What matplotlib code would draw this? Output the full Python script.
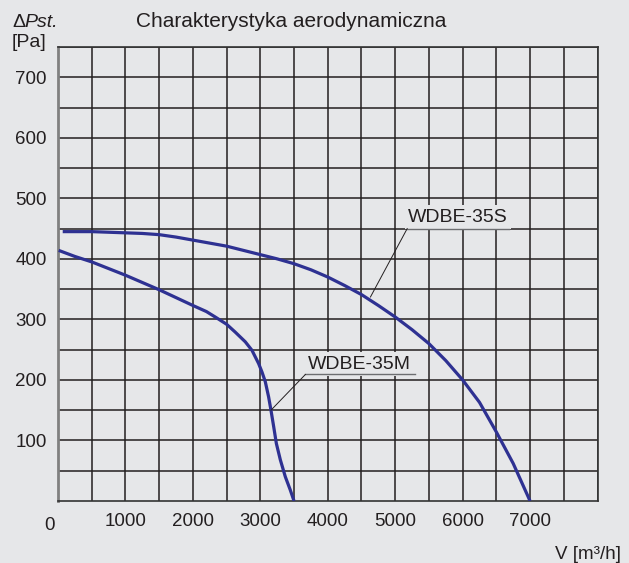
import matplotlib
matplotlib.use('Agg')
import matplotlib.pyplot as plt
import numpy as np

# ---- data ----
s_flow = [70, 500, 1000, 1250, 1500, 1750, 2000, 2250, 2500, 2750, 3000, 3250, 3500, 3750, 4000,
          4250, 4500, 4750, 5000, 5250, 5500, 5750, 6000, 6250, 6500, 6750, 7000]
s_pres = [445, 445, 443, 442, 440, 436, 431, 426, 421, 414, 407, 400, 392, 382, 370,
          356, 341, 323, 304, 283, 260, 232, 200, 163, 114, 62, 0]
m_flow = [10, 250, 500, 750, 1000, 1250, 1500, 1750, 2000, 2200, 2331, 2500, 2628, 2777, 2876,
          2975, 3025, 3074, 3123, 3158, 3198, 3238, 3297, 3371, 3445, 3500]
m_pres = [414, 404, 395, 384, 373, 361, 349, 336, 323, 313, 304, 292, 279, 263, 249,
          227, 213, 197, 172, 150, 123, 95, 68, 40, 18, 0]

x_tick_vals = [1000, 2000, 3000, 4000, 5000, 6000, 7000]
y_tick_vals = [100, 200, 300, 400, 500, 600, 700]
s_name = "WDBE-35S"
m_name = "WDBE-35M"
title = "Charakterystyka aerodynamiczna"

bg = '#e6e7e9'
curve_c = '#2e3192'
grid_c = '#231f20'
txt_c = '#231f20'
font = 'Liberation Sans'
plt.rcParams['font.family'] = [font, 'DejaVu Sans']

W, H = 629, 563
fig = plt.figure(figsize=(W / 100, H / 100), dpi=100, facecolor=bg)
ax = fig.add_axes([58 / W, 1 - 501 / H, (597.5 - 58) / W, (501 - 47) / H])
ax.set_facecolor(bg)
ax.set_xlim(0, 8000)
ax.set_ylim(0, 750)

xt = np.arange(500, 8001, 500)
yt = np.arange(50, 751, 50)
ax.set_xticks(xt)
ax.set_yticks(yt)
ax.set_xticklabels([str(int(v)) if int(v) in x_tick_vals else '' for v in xt])
ax.set_yticklabels([str(int(v)) if int(v) in y_tick_vals else '' for v in yt])
ax.tick_params(length=0, labelsize=13.5, colors=txt_c)
ax.tick_params(axis='x', pad=9)
ax.tick_params(axis='y', pad=8)
ax.grid(True, color=grid_c, linewidth=1.1, zorder=1)
ax.set_axisbelow(True)
for side in ['top', 'right', 'bottom']:
    ax.spines[side].set_color('#333333')
    ax.spines[side].set_linewidth(1.2)
ax.spines['left'].set_color('#808080')
ax.spines['left'].set_linewidth(2.0)

ax.annotate('0', xy=(0, 0), xycoords='data', xytext=(-6, -11.5), textcoords='offset points',
            ha='center', va='top', fontsize=13.5, color=txt_c, annotation_clip=False)

ax.plot(s_flow, s_pres, color=curve_c, lw=2.3, zorder=5, solid_capstyle='butt', solid_joinstyle='round')
ax.plot(m_flow, m_pres, color=curve_c, lw=2.3, zorder=5, solid_capstyle='butt', solid_joinstyle='round')

# labels with leaders
box = dict(facecolor=bg, edgecolor='none', pad=2.5)
ax.text(5190, 469, s_name, fontsize=14, ha='left', va='center', bbox=box, zorder=6, color=txt_c)
ax.plot([5178, 6682], [450, 450], color='#6d6e71', lw=1.0, zorder=7)
ax.plot([5178, 4633], [450, 337], color=txt_c, lw=0.7, zorder=7)

ax.text(3700, 226, m_name, fontsize=14, ha='left', va='center', bbox=box, zorder=6, color=txt_c)
ax.plot([3668, 5301], [209, 209], color='#6d6e71', lw=1.0, zorder=7)
ax.plot([3668, 3158], [209, 150], color=txt_c, lw=0.7, zorder=7)

# figure texts
fig.text(12 / W, 1 - 27 / H, 'Δ', fontsize=14, ha='left', va='baseline', color=txt_c)
fig.text(24 / W, 1 - 27 / H, 'Pst.', fontsize=14, style='italic', ha='left', va='baseline', color=txt_c)
fig.text(12 / W, 1 - 47 / H, '[Pa]', fontsize=14, ha='left', va='baseline', color=txt_c)
fig.text(136 / W, 1 - 27 / H, title, fontsize=15, ha='left', va='baseline', color=txt_c)
fig.text(621 / W, 1 - 559 / H, 'V [m³/h]', fontsize=13.5, ha='right', va='baseline', color=txt_c)

fig.savefig('out.png', dpi=100, facecolor=bg)
